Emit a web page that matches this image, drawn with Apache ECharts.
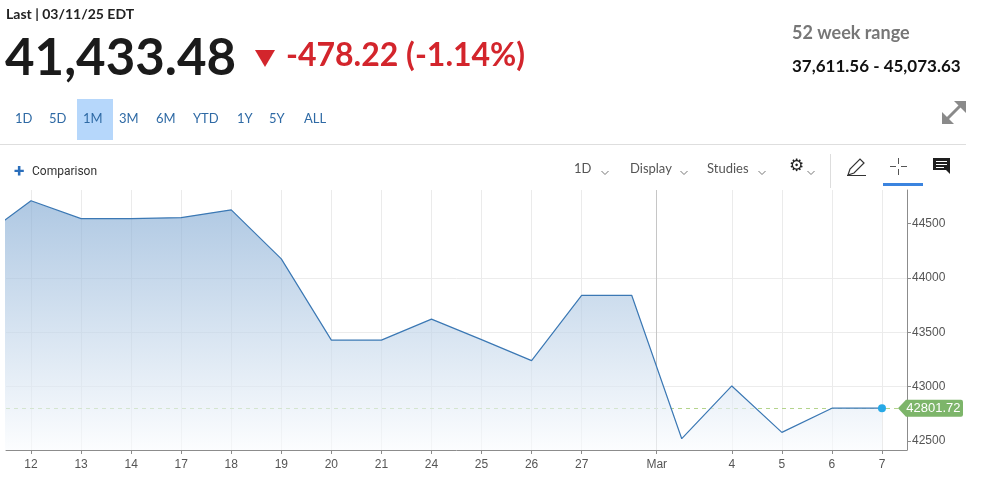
<!DOCTYPE html>
<html>
<head>
<meta charset="utf-8">
<script src="https://cdn.jsdelivr.net/npm/echarts@6/dist/echarts.min.js"></script>
<style>
html, body { margin: 0; padding: 0; background: #fff; }
#chart { width: 983px; height: 481px; }
</style>
</head>
<body>
<div id="chart"></div>
<script>
// trading days shown on the chart (first one is cut off at the left edge)
var days = ['11', '12', '13', '14', '17', '18', '19', '20', '21', '24', '25', '26', '27', '28', '3', '4', '5', '6', '7'];
// what is printed under each day ('' = no label)
var dayLabels = ['', '12', '13', '14', '17', '18', '19', '20', '21', '24', '25', '26', '27', '', '', '4', '5', '6', '7'];
var closes = [44368.56, 44711.43, 44546.08, 44546.08, 44556.34, 44627.59, 44176.65, 43428.02, 43428.02, 43621.16,
              43433.12, 43239.50, 43840.91, 43840.91, 42520.99, 43006.59, 42579.08, 42801.72, 42801.72];
var monthLabel = 'Mar';
var monthAfter = 13;          // month divider sits between '28' and '3'
var lastValue = 42801.72;
var yTicks = [42500, 43000, 43500, 44000, 44500];
var ranges = ['1D', '5D', '1M', '3M', '6M', 'YTD', '1Y', '5Y', 'ALL'];

// half-step category axis so the month divider can sit between two days
var cats = [], vals = [], blank = [];
for (var i = 0; i < days.length; i++) {
  cats.push(dayLabels[i]);
  vals.push(closes[i]);
  blank.push(null);
  cats.push(i === monthAfter ? monthLabel : '');
  vals.push(null);
  blank.push(null);
}
var lastCat = dayLabels[dayLabels.length - 1];

var myChart = echarts.init(document.getElementById('chart'));

var rangeX = [15, 49, 83, 119, 156, 193, 237, 269, 304];
var graphics = [
  { type: 'text', left: 6, top: 7, style: { text: 'Last | 03/11/25 EDT', font: 'bold 14px Lato', fill: '#222' } },
  { type: 'text', left: 5, top: 33, style: { text: '41,433.48', font: 'bold 51px Lato', fill: '#1b1b1b' } },
  { type: 'polygon', shape: { points: [[255, 50], [275, 50], [265, 67]] }, style: { fill: '#d3252c' } },
  { type: 'text', left: 286, top: 40, style: { text: '-478.22 (-1.14%)', font: 'bold 32px Lato', fill: '#d3252c' } },
  { type: 'text', left: 792, top: 24, style: { text: '52 week range', font: 'bold 18px Lato', fill: '#777' } },
  { type: 'text', left: 792, top: 58, style: { text: '37,611.56 - 45,073.63', font: 'bold 17px Lato', fill: '#111' } },
  { type: 'rect', shape: { x: 77, y: 99, width: 36, height: 41 }, style: { fill: '#b6d7fb' } },
  { type: 'line', shape: { x1: 0, y1: 144.5, x2: 966, y2: 144.5 }, style: { stroke: '#dedede', lineWidth: 1 } },
  // expand icon
  { type: 'line', shape: { x1: 946, y1: 120, x2: 962, y2: 104 }, style: { stroke: '#8a8a8a', lineWidth: 3 } },
  { type: 'polygon', shape: { points: [[954, 101], [966, 101], [966, 113]] }, style: { fill: '#8a8a8a' } },
  { type: 'polygon', shape: { points: [[942, 112], [942, 124], [954, 124]] }, style: { fill: '#8a8a8a' } },
  // toolbar
  { type: 'text', left: 14, top: 163, style: { text: '+', font: 'bold 19px Roboto', fill: '#2a6ebb' } },
  { type: 'text', left: 32, top: 166, style: { text: 'Comparison', font: '12px Roboto', fill: '#333' } },
  { type: 'text', left: 574, top: 162, style: { text: '1D', font: '13px Lato', fill: '#555' } },
  { type: 'text', left: 630, top: 162, style: { text: 'Display', font: '13px Lato', fill: '#555' } },
  { type: 'text', left: 707, top: 162, style: { text: 'Studies', font: '13px Lato', fill: '#555' } },
  { type: 'text', left: 789, top: 158, style: { text: '\u2699', font: '17px "DejaVu Sans"', fill: '#222' } },
  { type: 'line', shape: { x1: 830.5, y1: 154, x2: 830.5, y2: 188 }, style: { stroke: '#dddddd', lineWidth: 1 } },
  { type: 'polygon', shape: { points: [[848, 175], [850, 169], [860, 159], [864, 163], [854, 173]] }, style: { fill: 'none', stroke: '#333', lineWidth: 1.2 } },
  { type: 'line', shape: { x1: 847, y1: 175.5, x2: 866, y2: 175.5 }, style: { stroke: '#333', lineWidth: 1 } },
  { type: 'line', shape: { x1: 898.5, y1: 158, x2: 898.5, y2: 164 }, style: { stroke: '#555', lineWidth: 1 } },
  { type: 'line', shape: { x1: 898.5, y1: 169, x2: 898.5, y2: 175 }, style: { stroke: '#555', lineWidth: 1 } },
  { type: 'line', shape: { x1: 890, y1: 166.5, x2: 896, y2: 166.5 }, style: { stroke: '#555', lineWidth: 1 } },
  { type: 'line', shape: { x1: 901, y1: 166.5, x2: 907, y2: 166.5 }, style: { stroke: '#555', lineWidth: 1 } },
  { type: 'rect', shape: { x: 883, y: 183, width: 40, height: 3 }, style: { fill: '#3b84df' } },
  { type: 'polygon', shape: { points: [[933, 158], [950, 158], [950, 174], [946, 170], [933, 170]] }, style: { fill: '#1e1e1e' } },
  { type: 'line', shape: { x1: 936, y1: 161.5, x2: 947, y2: 161.5 }, style: { stroke: '#fff', lineWidth: 1 } },
  { type: 'line', shape: { x1: 936, y1: 164.5, x2: 947, y2: 164.5 }, style: { stroke: '#fff', lineWidth: 1 } },
  { type: 'line', shape: { x1: 936, y1: 167.5, x2: 944, y2: 167.5 }, style: { stroke: '#fff', lineWidth: 1 } }
];
ranges.forEach(function (r, k) {
  graphics.push({ type: 'text', left: rangeX[k], top: 112, style: { text: r, font: '13px Lato', fill: '#2f6aa5' } });
});
[605, 684, 762, 811].forEach(function (cx) {
  graphics.push({ type: 'polyline', shape: { points: [[cx - 3.5, 171], [cx, 174.5], [cx + 3.5, 171]] }, style: { stroke: '#777', lineWidth: 1, fill: 'none' } });
});

var showLabelled = function (idx, value) { return value !== ''; };

option = {
  animation: false,
  backgroundColor: '#fff',
  graphic: graphics,
  grid: { left: 6, right: 76, top: 190, bottom: 31 },
  xAxis: {
    type: 'category',
    data: cats,
    boundaryGap: false,
    min: 1,
    axisLine: { lineStyle: { color: '#8c8c8c' } },
    axisTick: { interval: showLabelled, length: 4, lineStyle: { color: '#8c8c8c' } },
    axisLabel: { interval: 0, color: '#555', fontFamily: 'Liberation Sans', fontSize: 12, margin: 9 },
    splitLine: { show: true, interval: showLabelled, lineStyle: { color: '#ebebeb' } }
  },
  yAxis: {
    type: 'value',
    position: 'right',
    min: 42417,
    max: 44810,
    splitNumber: 5,
    axisLine: { show: true, lineStyle: { color: '#8c8c8c' } },
    axisTick: { show: true, length: 4, customValues: yTicks, lineStyle: { color: '#8c8c8c' } },
    axisLabel: { customValues: yTicks, color: '#555', fontFamily: 'Liberation Sans', fontSize: 12, margin: 5,
                 formatter: function (v) { return String(v); } },
    splitLine: { show: true, showMinLine: false, showMaxLine: false, lineStyle: { color: '#ececec' } }
  },
  series: [
    {
      type: 'line',
      data: blank,
      z: 1,
      silent: true,
      markLine: {
        silent: true,
        z: 1,
        symbol: ['none', 'none'],
        label: { show: false },
        data: [
          { yAxis: lastValue, lineStyle: { type: [4, 4], color: '#b4d48c', width: 1 } },
          { xAxis: monthLabel, lineStyle: { type: 'solid', color: '#c6c6c6', width: 1 } }
        ]
      }
    },
    {
      type: 'line',
      data: vals,
      z: 2,
      connectNulls: true,
      showSymbol: false,
      symbol: 'none',
      lineStyle: { color: '#3b78b4', width: 1.2 },
      areaStyle: {
        color: new echarts.graphic.LinearGradient(0, 0, 0, 1, [
          { offset: 0, color: 'rgba(128,168,210,0.9)' },
          { offset: 1, color: 'rgba(250,252,254,0.9)' }
        ])
      },
      markPoint: {
        silent: true,
        data: [
          {
            coord: [lastCat, lastValue],
            symbol: 'path://M0,8.5 L8,0 L63,0 Q65,0 65,2 L65,15 Q65,17 63,17 L8,17 Z',
            symbolSize: [65, 17],
            symbolOffset: [48.5, 0],
            itemStyle: { color: '#7db56a' },
            label: { show: true, formatter: String(lastValue), color: '#fff', fontFamily: 'Liberation Sans',
                     fontSize: 13, offset: [3, 0] }
          },
          {
            coord: [lastCat, lastValue],
            symbol: 'circle',
            symbolSize: 8,
            itemStyle: { color: '#27a9e6' },
            label: { show: false }
          }
        ]
      }
    }
  ]
};

myChart.setOption(option);
</script>
</body>
</html>
